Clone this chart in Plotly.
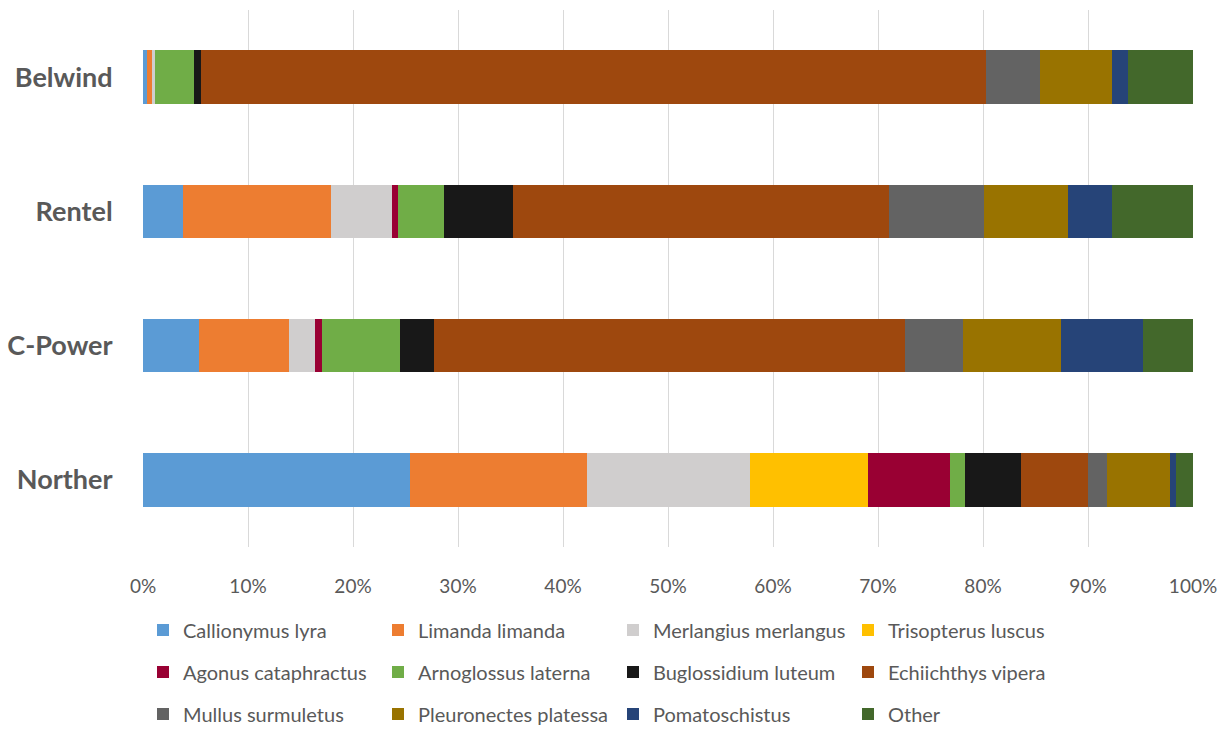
import plotly.graph_objects as go

sites = ["Belwind", "Rentel", "C-Power", "Norther"]
species = ["Callionymus lyra", "Limanda limanda", "Merlangius merlangus", "Trisopterus luscus",
           "Agonus cataphractus", "Arnoglossus laterna", "Buglossidium luteum", "Echiichthys vipera",
           "Mullus surmuletus", "Pleuronectes platessa", "Pomatoschistus", "Other"]
colors = ["#5B9BD5", "#ED7D31", "#D0CECE", "#FFC000", "#990033", "#70AD47",
          "#181818", "#9E480E", "#636363", "#997300", "#264478", "#43682B"]

# percent values per species, in order of sites
callionymus = [0.4, 3.8, 5.3, 25.4]
limanda = [0.5, 14.1, 8.6, 16.9]
merlangius = [0.2, 5.8, 2.5, 15.5]
trisopterus = [0.0, 0.0, 0.0, 11.2]
agonus = [0.0, 0.6, 0.6, 7.9]
arnoglossus = [3.8, 4.4, 7.5, 1.4]
buglossidium = [0.6, 6.5, 3.2, 5.3]
echiichthys = [74.8, 35.8, 44.9, 6.4]
mullus = [5.1, 9.1, 5.5, 1.8]
pleuronectes = [6.9, 8.0, 9.3, 6.0]
pomatoschistus = [1.5, 4.2, 7.8, 0.6]
other = [6.2, 7.7, 4.8, 1.6]
x_ticks = list(range(0, 101, 10))
x_ticktext = [f"{v}%" for v in x_ticks]

series = [callionymus, limanda, merlangius, trisopterus, agonus, arnoglossus,
          buglossidium, echiichthys, mullus, pleuronectes, pomatoschistus, other]

FONT = "Lato"
GREY = "#595959"

fig = go.Figure()
legends = ["legend", "legend2", "legend3"]
for i, (name, vals, col) in enumerate(zip(species, series, colors)):
    fig.add_trace(go.Bar(
        y=sites, x=vals, name=name, orientation="h",
        marker=dict(color=col, line=dict(width=0)),
        legend=legends[i // 4],
    ))

H_PLOT_TOP = 10
H_PLOT_BOT = 547
ph = H_PLOT_BOT - H_PLOT_TOP

def ypaper(px):
    return (H_PLOT_BOT - px) / ph

legend_common = dict(
    orientation="h", xanchor="left", yanchor="middle", x=0.0,
    font=dict(family=FONT, size=20, color=GREY),
    entrywidth=190, entrywidthmode="pixels", bgcolor="rgba(0,0,0,0)",
    traceorder="normal", itemclick=False,
)

fig.update_layout(
    width=1231, height=729,
    margin=dict(l=143, r=38, t=H_PLOT_TOP, b=729 - H_PLOT_BOT, autoexpand=False),
    barmode="stack", bargap=0.6,
    plot_bgcolor="white", paper_bgcolor="white",
    font=dict(family=FONT, color=GREY),
    legend=dict(legend_common, y=ypaper(630)),
    legend2=dict(legend_common, y=ypaper(672)),
    legend3=dict(legend_common, y=ypaper(714)),
    xaxis=dict(range=[0, 100], tickvals=x_ticks, ticktext=x_ticktext,
               showgrid=True, gridcolor="#D9D9D9", gridwidth=1.3,
               zeroline=False, showline=False,
               ticks="outside", ticklen=22, tickcolor="rgba(0,0,0,0)",
               tickfont=dict(family=FONT, size=19, color=GREY)),
    yaxis=dict(categoryorder="array", categoryarray=sites[::-1],
               showgrid=False, zeroline=False, showline=False,
               ticks="outside", ticklen=24, tickcolor="rgba(0,0,0,0)",
               tickfont=dict(family=FONT, size=27, color=GREY, weight="bold")),
)

fig.write_html("out.html")
